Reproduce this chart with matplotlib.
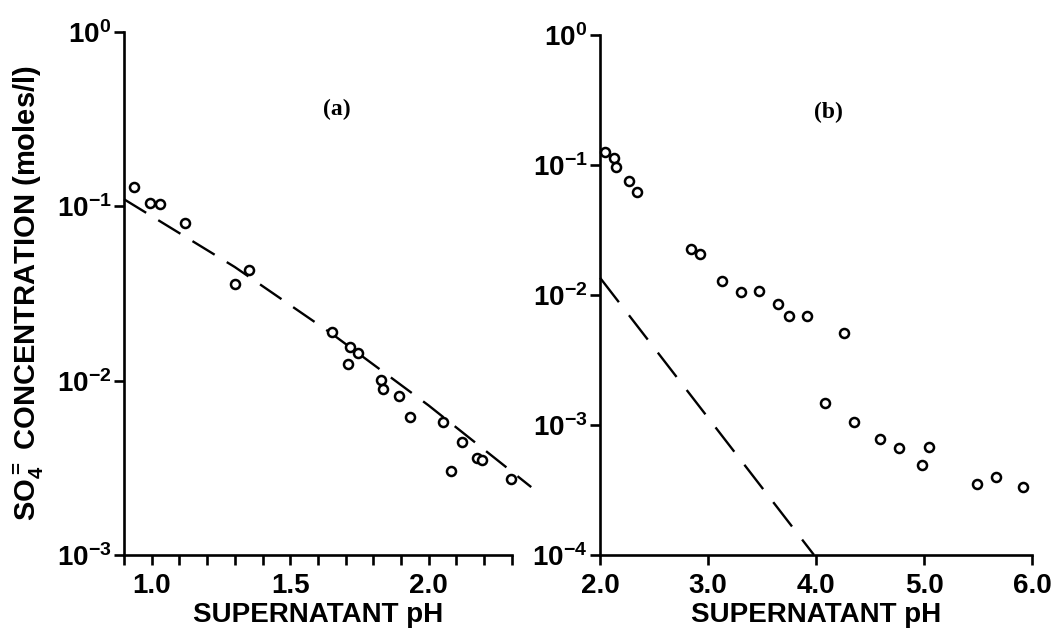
import numpy as np
import matplotlib.pyplot as plt
from matplotlib.ticker import FixedLocator, NullFormatter

plt.rcParams['font.family'] = ['Liberation Sans', 'DejaVu Sans']
plt.rcParams['font.weight'] = 'bold'
plt.rcParams['mathtext.fontset'] = 'custom'
plt.rcParams['mathtext.rm'] = 'Liberation Sans:bold'
plt.rcParams['mathtext.bf'] = 'Liberation Sans:bold'
plt.rcParams['mathtext.default'] = 'bf'

# Panel (a) data: supernatant pH vs SO4 concentration (moles/l)
ph_a = [0.936, 0.993, 1.029, 1.121, 1.302, 1.352, 1.650, 1.716, 1.746, 1.710,
        1.828, 1.836, 1.892, 1.932, 2.053, 2.119, 2.081, 2.173, 2.194, 2.297]
so4_a = [0.129, 0.1044, 0.103, 0.0802, 0.0357, 0.0431, 0.0190, 0.0156, 0.0144, 0.0124,
         0.01004, 0.00891, 0.00822, 0.00617, 0.00577, 0.00442, 0.00303, 0.00362, 0.00349, 0.00274]
# dashed curve (a)
fit_ph_a = [0.9, 1.3, 1.65, 2.0, 2.37]
fit_so4_a = [0.110, 0.0449, 0.0186, 0.0072, 0.00245]

# Panel (b) data
ph_b = [2.041, 2.125, 2.147, 2.267, 2.345, 2.841, 2.925, 3.129, 3.308, 3.468,
        3.647, 3.751, 3.914, 4.259, 4.086, 4.353, 4.588, 4.767, 5.043, 4.980,
        5.489, 5.664, 5.915]
so4_b = [0.1256, 0.1136, 0.0963, 0.0750, 0.0618, 0.02254, 0.02066, 0.01279, 0.01047, 0.01071,
         0.00846, 0.00682, 0.00682, 0.00505, 0.00146, 0.00106, 0.00078, 0.000666, 0.000676, 0.000490,
         0.000350, 0.000395, 0.000333]
# dashed line (b)
fit_ph_b = [2.0, 3.98]
fit_so4_b = [0.0135, 1.0e-4]

xticks_a = [1.0, 1.5, 2.0]
xminor_a = np.round(np.arange(0.9, 2.31, 0.1), 2)
xticks_b = [2.0, 3.0, 4.0, 5.0, 6.0]
yticks_a = [1e-3, 1e-2, 1e-1, 1e0]
yticks_b = [1e-4, 1e-3, 1e-2, 1e-1, 1e0]

fig = plt.figure(figsize=(10.51, 6.32), dpi=100)
ax_a = fig.add_axes([0.118, 0.122, 0.369, 0.827])
ax_b = fig.add_axes([0.571, 0.122, 0.411, 0.823])

mk = dict(linestyle='none', marker='o', markersize=6.5, markerfacecolor='white',
          markeredgecolor='black', markeredgewidth=1.8, clip_on=False)

ax_a.plot(fit_ph_a, fit_so4_a, color='black', lw=1.7, dashes=(11, 6), clip_on=False)
ax_a.plot(ph_a, so4_a, **mk)
ax_b.plot(fit_ph_b, fit_so4_b, color='black', lw=1.7, dashes=(13, 7), clip_on=False)
ax_b.plot(ph_b, so4_b, **mk)

for ax in (ax_a, ax_b):
    ax.set_yscale('log')
    for s in ('top', 'right'):
        ax.spines[s].set_visible(False)
    for s in ('left', 'bottom'):
        ax.spines[s].set_linewidth(1.9)
    ax.tick_params(axis='both', which='both', direction='out', width=1.9, length=7)
    ax.tick_params(axis='x', labelsize=20, pad=6)
    ax.tick_params(axis='y', labelsize=20, pad=2)
    ax.yaxis.set_minor_locator(FixedLocator([]))
    ax.set_xlabel('SUPERNATANT pH', fontsize=20, fontweight='bold', labelpad=2)

ax_a.set_xlim(0.9, 2.3)
ax_a.set_ylim(1e-3, 1e0)
ax_a.set_xticks(xticks_a)
ax_a.set_xticklabels(['%.1f' % v for v in xticks_a])
ax_a.xaxis.set_minor_locator(FixedLocator(xminor_a))
ax_a.xaxis.set_minor_formatter(NullFormatter())
ax_a.set_yticks(yticks_a)

ax_b.set_xlim(2.0, 6.0)
ax_b.set_ylim(1e-4, 1e0)
ax_b.set_xticks(xticks_b)
ax_b.set_xticklabels(['%.1f' % v for v in xticks_b])
ax_b.set_yticks(yticks_b)

ax_a.set_ylabel(r'SO$_{4}^{=}$ CONCENTRATION (moles/l)', fontsize=21, fontweight='bold')
ax_a.yaxis.set_label_coords(-0.2, 0.5)

ax_a.text(1.667, 0.359, '(a)', fontsize=17, family='Liberation Serif',
          fontweight='bold', ha='center', va='center')
ax_b.text(4.118, 0.253, '(b)', fontsize=17, family='Liberation Serif',
          fontweight='bold', ha='center', va='center')

fig.savefig('out.png', dpi=100)
